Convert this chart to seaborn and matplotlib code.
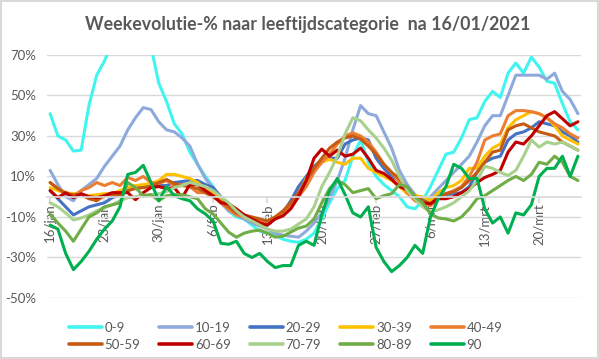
import matplotlib
matplotlib.use("Agg")
import matplotlib.pyplot as plt
import seaborn as sns
import pandas as pd
from matplotlib.ticker import FuncFormatter

# weekevolutie in %, een waarde per dag vanaf 16/01/2021 (t/m 25/03)
groups = ["0-9", "10-19", "20-29", "30-39", "40-49",
          "50-59", "60-69", "70-79", "80-89", "90"]
colors = ["#40F5F0", "#8EA9DB", "#4472C4", "#FFC000", "#ED7D31",
          "#C55A11", "#C00000", "#A9D18E", "#70AD47", "#00B050"]
tick_days = [0, 7, 14, 21, 28, 35, 42, 49, 56, 63]
tick_labels = ["16/jan", "23/jan", "30/jan", "6/feb", "13/feb",
               "20/feb", "27/feb", "6/mrt", "13/mrt", "20/mrt"]
y_ticks = [-50, -30, -10, 10, 30, 50, 70]

v_0_9 = [41, 30, 28, 22.5, 23, 45, 60, 67, 76, 82, 85, 85, 82, 74,
         56, 47, 36, 31, 22, 16, 10, 5, -2, -7, -10, -11, -14, -17,
         -18, -19, -21, -22, -22.5, -21, -18, -11, -3, 4, 8, 20, 28, 17,
         10, 6, 3, 0, -5, -6, -2, 5, 13, 21, 22, 29, 38, 39, 47, 52,
         49, 61, 66, 61, 69, 64, 57, 56, 46, 37, 33]
v_10_19 = [13, 6, 0, -2, 3, 6, 9, 15, 20, 25, 33, 39, 44, 43,
           37, 33, 32, 29, 25, 16, 9, 4, -3, -7, -9, -11, -13, -14.5,
           -16, -18, -19, -19.5, -20, -17, -13, -8, -1, 8, 19, 33, 45, 41,
           40, 32, 24, 13, 6, 1, -2, 0, 4, 8, 12, 16, 20, 27, 35, 40,
           40, 50, 60, 60, 60, 60, 58, 61, 52, 48, 41]
v_20_29 = [3, -1, -5, -9, -7, -5, -4, -3, -0.5, 1, 3, 4.5, 5, 5.5,
           5.5, 5.5, 7, 7.5, 8, 8, 6, 4.5, 0, -4, -7, -9, -12, -14,
           -14, -10, -8, -2, 5, 10, 15, 18, 19, 19, 26, 28, 29, 28,
           19, 14, 10, 8, 4, 0, -1, -2, -0.5, 1, 1.5, 2, 5, 12, 17, 19,
           20, 28, 31, 32, 34, 37, 36, 35, 32, 30, 27]
v_30_39 = [4.5, 3, 2, 1.5, 1, 0.5, 1, 1.5, 1.5, 3, 4.5, 5.5, 6, 6.5,
           8, 11, 11, 10, 9, 7, 4, 2, -2, -5, -8, -10, -11, -12.5,
           -12, -10, -8, -5, 1, 9, 13, 17, 18.5, 17, 16, 19, 19, 14,
           12, 10, 8, 5, 1.5, 0.5, 0, -2, 2, 4.5, 5.5, 8, 14, 14, 20, 24,
           26, 34, 38, 40, 42, 41, 39, 35, 30, 28, 26]
v_40_49 = [7, 4, 2, 0.5, 3, 4.5, 7, 5.5, 7, 5.5, 9.5, 8, 10, 7,
           6.5, 8, 5.5, 6, 5, 2, 2, 0, -3, -6, -9, -10, -11, -12,
           -12.5, -11, -8, -5, 0, 5, 12, 17, 21, 26, 30, 31.5, 30, 27,
           22, 16, 12, 7, 2, -2, -3.5, -4.5, -1, 1.5, 3, 5, 10, 17, 28, 30,
           31, 40, 42.5, 42.5, 42, 41, 39, 36, 34, 31, 29]
v_50_59 = [7, 4, 1.5, 1, 1, -1, -2, 0.5, 1, 1, 3, 4, 4.5, 5,
           7, 8.5, 6.5, 5.5, 5, 4, 2, 0, -2.5, -5, -8, -9, -10, -11,
           -12, -10, -7, -3, 2, 8, 14, 19, 24, 27, 29, 30, 28.5, 25,
           21, 16, 12, 9, 4, 0, -2, -3.5, 0, 1.5, 2.5, 4.5, 8, 12, 17, 22,
           23, 33, 35, 36, 34, 32, 31, 30, 27, 25, 23]
v_60_69 = [3, -0.5, 2, -0.5, 1.5, 0, -0.5, 0.5, 2, 2, 2, -1.5, 2, 4.5,
           5, 4, 4.5, -0.5, 6, 6, 3, 0.5, -3, -3.5, -6, -9, -11, -13,
           -14, -11, -9.5, -6, 0, 8, 19, 23.5, 20, 23, 20, 21, 24, 19,
           13, 11.5, 8.5, 5, 3.5, 0, -3, -3.5, -1, -1, 0, 2, 4, 7, 9.5, 11,
           13, 22, 27, 26, 30, 35, 40, 42, 38.5, 35, 37]
v_70_79 = [-3, -5, -8, -11.5, -10.5, -9, -7, -5.5, -4, -2, -0.5, 0, 0.5, 1,
           1.5, 2.5, 4.5, 5.5, 7, 6, 5, 3, 0, -3, -7, -10, -12, -14,
           -16, -17, -17, -16, -13.5, -11, -5, 5, 12, 20, 31, 39, 37.5, 33,
           29, 24, 18, 10, 3, -1, -5, -7.5, -6.5, -5, -3, 0, 3, 8, 15, 14,
           12, 10.5, 13, 20, 28, 24.5, 27, 26, 27, 25, 23]
v_80_89 = [-8.5, -13, -17, -22, -16, -10, -8, -5, -4, -3, 7, 4.5, 0.5, 1,
           -2, 0.5, 1, 1, 0, -1, -6, -8.5, -13, -17.5, -20, -18, -17, -16.5,
           -18, -20, -19.5, -17.5, -15.5, -14.5, -11, -3, 4, 8, 6, 2, 3, 4,
           -1, 0.5, 1.5, 6, 5, 0, -3, -8.5, -10.5, -11, -12, -10, -6, -1, 0.5, 3,
           5.5, 8, 10, 8, 11, 17, 16, 20, 17, 10, 8]
v_90 = [-14, -16, -28, -36, -32, -27, -21, -16, -12, -5, 11, 12, 15.5, 7,
        -2, 5, 0.5, -1, -2, -6, -8.5, -12, -23, -23.5, -22, -28, -30, -28,
        -32, -35, -34, -34, -24, -22, -24, -9, 3, 9, 1, -8, -10, -5,
        -25, -32, -37, -34, -30, -24, -28, -10, -1, 5, 16, 14, 9, 9, -6, -13,
        -10, -18, -8, -9, -4, 10, 14, 14, 20, 10, 20]

series = [v_0_9, v_10_19, v_20_29, v_30_39, v_40_49,
          v_50_59, v_60_69, v_70_79, v_80_89, v_90]
frames = []
for g, vals in zip(groups, series):
    frames.append(pd.DataFrame({"dag": range(len(vals)), "pct": vals, "groep": g}))
df = pd.concat(frames, ignore_index=True)

sns.set_theme(style="white")
plt.rcParams["font.family"] = ["Lato", "DejaVu Sans"]
grey_txt = "#595959"
grey_line = "#D9D9D9"

fig = plt.figure(figsize=(5.99, 3.59), dpi=100)
fig.patch.set_edgecolor(grey_line)
fig.patch.set_linewidth(1.5)
ax = fig.add_axes([0.0785, 0.170, 0.8915, 0.677])

sns.lineplot(data=df, x="dag", y="pct", hue="groep", hue_order=groups,
             palette=colors, linewidth=2.2, estimator=None, ax=ax)

# spine first: set_position resets the ticks
for s in ["top", "right", "left"]:
    ax.spines[s].set_visible(False)
ax.spines["bottom"].set_position(("data", 0))
ax.spines["bottom"].set_color(grey_line)

ax.set_xlim(-0.4, 68.4)
ax.set_ylim(-50, 70)
ax.set_yticks(y_ticks)
ax.yaxis.set_major_formatter(FuncFormatter(lambda v, p: f"{v:.0f}%"))
ax.yaxis.grid(True, color=grey_line, linewidth=1)
ax.set_axisbelow(True)
ax.set_xticks(tick_days)
ax.set_xticklabels(tick_labels, rotation=90)
ax.set_xlabel("")
ax.set_ylabel("")
ax.tick_params(axis="y", length=0, labelsize=9.5, labelcolor=grey_txt, pad=8)
ax.tick_params(axis="x", bottom=True, direction="out", length=4, color=grey_line,
               labelsize=9.5, labelcolor=grey_txt, pad=1)

fig.text(0.513, 0.933, "Weekevolutie-% naar leeftijdscategorie  na 16/01/2021",
         ha="center", va="center", fontsize=12.8, fontweight="bold", color=grey_txt)

handles, labels = ax.get_legend_handles_labels()
ax.get_legend().remove()
order = [0, 5, 1, 6, 2, 7, 3, 8, 4, 9]
leg = fig.legend([handles[i] for i in order], [labels[i] for i in order],
                 ncol=5, loc="center", bbox_to_anchor=(0.477, 0.063),
                 frameon=False, fontsize=9.5, handlelength=2.5,
                 handletextpad=0.2, columnspacing=1.45, labelspacing=0.35)
for t in leg.get_texts():
    t.set_color(grey_txt)
for h in leg.legend_handles:
    h.set_linewidth(2.6)

fig.savefig("out.png", dpi=100)
